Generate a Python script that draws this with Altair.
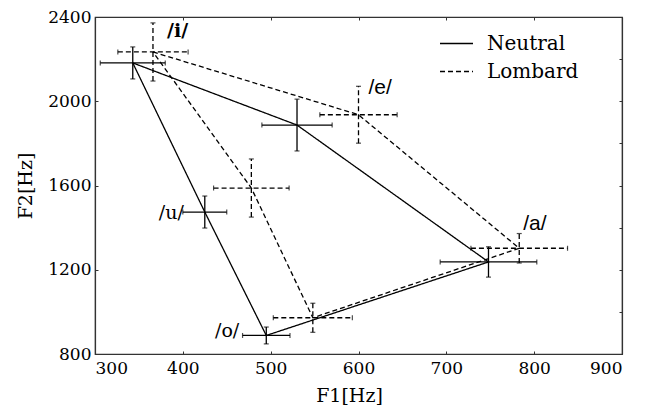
import altair as alt
import pandas as pd

vowels = ["/i/", "/e/", "/a/", "/o/", "/u/"]
conditions = ["Neutral", "Lombard"]

neutral_f1 = [343, 530, 748, 495, 425]
neutral_f2 = [2182, 1887, 1237, 888, 1474]
neutral_f1_err = [37, 40, 55, 27, 25]
neutral_f2_err = [76, 123, 72, 40, 76]

lombard_f1 = [366, 600, 783, 548, 478]
lombard_f2 = [2234, 1936, 1302, 972, 1588]
lombard_f1_err = [40, 44, 55, 45, 43]
lombard_f2_err = [138, 135, 70, 69, 138]

x_ticks = [300, 400, 500, 600, 700, 800, 900]
y_labels = [800, 1200, 1600, 2000, 2400]
y_minor = [800, 1000, 1200, 1400, 1600, 1800, 2000, 2200, 2400]

rows = []
for cond, f1s, f2s, e1s, e2s in [
    ("Neutral", neutral_f1, neutral_f2, neutral_f1_err, neutral_f2_err),
    ("Lombard", lombard_f1, lombard_f2, lombard_f1_err, lombard_f2_err),
]:
    for i, v in enumerate(vowels):
        rows.append(dict(condition=cond, vowel=v, order=i, f1=f1s[i], f2=f2s[i],
                         f1lo=f1s[i] - e1s[i], f1hi=f1s[i] + e1s[i],
                         f2lo=f2s[i] - e2s[i], f2hi=f2s[i] + e2s[i]))
pts = pd.DataFrame(rows)

# closed polygon path
line_rows = []
for cond in conditions:
    sub = pts[pts.condition == cond].sort_values("order")
    for _, r in sub.iterrows():
        line_rows.append(dict(condition=cond, order=r.order, f1=r.f1, f2=r.f2))
    first = sub.iloc[0]
    line_rows.append(dict(condition=cond, order=len(vowels), f1=first.f1, f2=first.f2))
lines_df = pd.DataFrame(line_rows)

hcaps = pd.concat([
    pts.assign(cx=pts.f1lo, cy=pts.f2),
    pts.assign(cx=pts.f1hi, cy=pts.f2),
])
vcaps = pd.concat([
    pts.assign(cx=pts.f1, cy=pts.f2lo),
    pts.assign(cx=pts.f1, cy=pts.f2hi),
])

FONT = "DejaVu Serif"
xscale = alt.Scale(domain=[300, 900], nice=False, zero=False)
yscale = alt.Scale(domain=[800, 2400], nice=False, zero=False)
dash_scale = alt.Scale(domain=conditions, range=[[1, 0], [5, 3]])
inward = alt.ExprRef(expr="-3")

axis_style = dict(
    domainColor="#333333", domainWidth=1.2, tickColor="#333333", tickWidth=1,
    labelFont=FONT, labelFontSize=17, labelColor="black",
    titleFont=FONT, titleFontSize=19, titleFontWeight="normal", titleColor="black",
    grid=False, format="d", tickSize=inward,
)

dash_legend = alt.Legend(
    title=None, orient="none", legendX=344, legendY=9, symbolType="stroke",
    symbolSize=1089, symbolStrokeWidth=1.3, symbolStrokeColor="black",
    labelFont=FONT, labelFontSize=20, labelColor="black", labelOffset=13,
    rowPadding=0, padding=0,
)

lines = alt.Chart(lines_df).mark_line(color="black", strokeWidth=1.3).encode(
    x=alt.X("f1:Q", scale=xscale, axis=alt.Axis(
        title="F1[Hz]", values=x_ticks, orient="bottom",
        labelPadding=9, titlePadding=10, titleX=254, **axis_style)),
    y=alt.Y("f2:Q", scale=yscale, axis=alt.Axis(
        title="F2[Hz]", values=y_labels, orient="left",
        labelPadding=7, titlePadding=12, **axis_style)),
    order="order:Q",
    detail="condition:N",
    strokeDash=alt.StrokeDash("condition:N", scale=dash_scale, legend=dash_legend),
)

hbars = alt.Chart(pts).mark_rule(color="black", strokeWidth=1.3).encode(
    x=alt.X("f1lo:Q", scale=xscale, axis=alt.Axis(
        orient="top", values=x_ticks, labels=False, title=None, **axis_style)),
    x2="f1hi:Q",
    y=alt.Y("f2:Q", scale=yscale, axis=alt.Axis(
        orient="right", values=y_minor, labels=False, title=None, **axis_style)),
    strokeDash=alt.StrokeDash("condition:N", scale=dash_scale, legend=None),
)

vbars = alt.Chart(pts).mark_rule(color="black", strokeWidth=1.3).encode(
    x=alt.X("f1:Q", scale=xscale, axis=None),
    y=alt.Y("f2lo:Q", scale=yscale, axis=None),
    y2="f2hi:Q",
    strokeDash=alt.StrokeDash("condition:N", scale=dash_scale, legend=None),
)

hcap_marks = alt.Chart(hcaps).mark_tick(color="black", orient="vertical", size=5, thickness=1.2).encode(
    x=alt.X("cx:Q", scale=xscale, axis=None),
    y=alt.Y("cy:Q", scale=yscale, axis=None),
)
vcap_marks = alt.Chart(vcaps).mark_tick(color="black", orient="horizontal", size=5, thickness=1.2).encode(
    x=alt.X("cx:Q", scale=xscale, axis=None),
    y=alt.Y("cy:Q", scale=yscale, axis=None),
)


def label(cond, vowel, dx, dy, align, font, weight="normal", size=20):
    d = pts[(pts.condition == cond) & (pts.vowel == vowel)]
    return alt.Chart(d).mark_text(
        dx=dx, dy=dy, align=align, baseline="middle", font=font,
        fontSize=size, fontWeight=weight, color="black",
    ).encode(
        x=alt.X("f1:Q", scale=xscale, axis=None),
        y=alt.Y("f2:Q", scale=yscale, axis=None),
        text="vowel:N",
    )


labels = [
    label("Lombard", "/i/", 14, -21, "left", FONT, "bold", 19),
    label("Lombard", "/e/", 10, -27, "left", "Liberation Sans", "normal", 21),
    label("Lombard", "/a/", 4, -24, "left", "Liberation Sans", "normal", 21),
    label("Neutral", "/u/", -21, 1, "right", FONT, "normal", 19),
    label("Neutral", "/o/", -27, -4, "right", FONT, "normal", 19),
]

chart = alt.layer(lines, hbars, vbars, hcap_marks, vcap_marks, *labels).resolve_axis(
    x="independent", y="independent"
).properties(
    width=527, height=337,
    autosize=alt.AutoSizeParams(type="none"),
    padding={"left": 87, "top": 9, "right": 20, "bottom": 56},
    background="white",
).configure_view(stroke="#333333", strokeWidth=1.2)

chart.save("out.html", embed_options={"renderer": "svg", "actions": False})
